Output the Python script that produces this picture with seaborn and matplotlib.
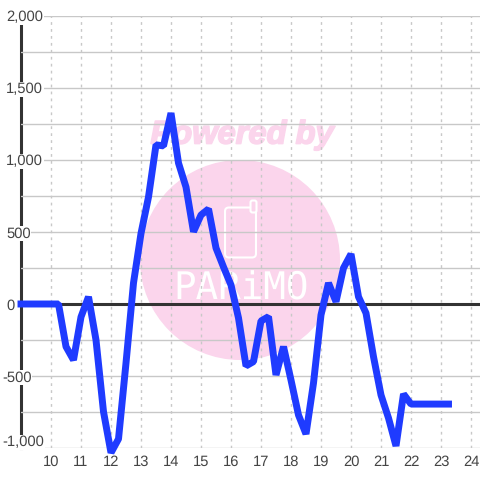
import matplotlib
matplotlib.use("Agg")
import matplotlib.pyplot as plt
from matplotlib.patches import Circle, FancyBboxPatch
from matplotlib.transforms import ScaledTranslation
import matplotlib.patheffects as pe
import pandas as pd
import seaborn as sns

values = [0, 0, 0, 0, 0, 0,
          -296, -389, -90, 50, -250, -748, -1033, -937, -410, 146,
          490, 743, 1105, 1098, 1326, 979, 812, 502, 618, 660,
          389, 257, 132, -97, -430, -400, -118, -88, -493, -296,
          -528, -771, -903, -549, -76, 146, 16, 250, 347, 50,
          -63, -366, -632, -792, -986, -625, -695, -695, -695, -695, -695, -695]
hours = [9 + 0.25 * i for i in range(len(values))]
x_ticks = list(range(10, 25))
x_labels = [str(h) for h in x_ticks]
y_major = [-1000, -750, -500, -250, 0, 250, 500, 750, 1000, 1250, 1500, 1750, 2000]
y_labels = ["-1,000", "", "-500", "", "0", "", "500", "", "1,000", "", "1,500", "", "2,000"]

sns.set_theme(style="white", font="Liberation Sans")
plt.rcParams["font.family"] = ["Liberation Sans", "DejaVu Sans"]
plt.rcParams["text.hinting"] = "none"

fig = plt.figure(figsize=(4.8, 4.8), dpi=100)
ax = fig.add_axes([21 / 480, 32 / 480, 459 / 480, 432 / 480])
ax.patch.set_alpha(0)

PINK = "#fbd5ec"
ax.add_patch(Circle((240 / 480, 1 - 260 / 480), 100 / 480, transform=fig.transFigure,
                    fc=PINK, ec="none", zorder=0.1, clip_on=False))
ax.text(242 / 480, 1 - 135 / 480, "Powered by", transform=fig.transFigure, color=PINK,
        fontsize=23.5, fontweight="bold", style="italic", ha="center", va="center",
        family="Liberation Sans", zorder=0.2,
        path_effects=[pe.withStroke(linewidth=1.2, foreground=PINK)])
ax.add_patch(FancyBboxPatch((225.5 / 480, 1 - 257 / 480), 30 / 480, 49 / 480,
                            boxstyle="round,pad=0.001,rounding_size=0.008",
                            transform=fig.transFigure, fc="none", ec="white", lw=1.5,
                            zorder=0.2, clip_on=False))
ax.add_patch(FancyBboxPatch((251 / 480, 1 - 212 / 480), 5 / 480, 11 / 480,
                            boxstyle="round,pad=0.001,rounding_size=0.004",
                            transform=fig.transFigure, fc=PINK, ec="white", lw=1.5,
                            zorder=0.2, clip_on=False))
ax.text(241 / 480, 1 - 289 / 480, "PARiMO", transform=fig.transFigure, color="white",
        fontsize=27, ha="center", va="center", family="DejaVu Sans Mono",
        zorder=0.2)

df = pd.DataFrame({"hour": hours, "value": values})
sns.lineplot(data=df, x="hour", y="value", ax=ax, color="#1f3bff", linewidth=5.0,
             errorbar=None, zorder=3, clip_on=False, solid_joinstyle="bevel",
             solid_capstyle="projecting")

ax.axhline(0, color="#333333", lw=2.2, zorder=1.8)

ax.set_xticks(x_ticks, x_labels)
ax.set_yticks(y_major, y_labels)
ax.set_xlim(9, 24.3)
ax.set_ylim(-1000, 2000)
ax.set_xlabel("")
ax.set_ylabel("")
ax.grid(axis="y", color="#c8c8c8", lw=1.0, ls="-")
ax.grid(axis="x", color="#c8c8c8", lw=1.0, ls=(0, (2, 3)))
ax.tick_params(axis="both", length=0, labelsize=10.6, labelcolor="#444444")
ax.tick_params(axis="x", pad=5)
ax.tick_params(axis="y", pad=10.8)
for lab in ax.get_yticklabels():
    txt = lab.get_text()
    lab.set_ha("left")
    if txt:
        lab.set_bbox(dict(fc="white", ec="none", pad=0.5))
    if txt.startswith("-"):
        dy = 7 / 100 if txt == "-1,000" else 0
        lab.set_transform(lab.get_transform() + ScaledTranslation(-4 / 100, dy, fig.dpi_scale_trans))

for s in ["top", "right", "bottom"]:
    ax.spines[s].set_visible(False)
ax.spines["left"].set_color("#333333")
ax.spines["left"].set_linewidth(2.2)
ax.spines["left"].set_zorder(1)
ax.xaxis.set_zorder(1.5)
ax.yaxis.set_zorder(1.5)

fig.savefig("out.png", dpi=100)
